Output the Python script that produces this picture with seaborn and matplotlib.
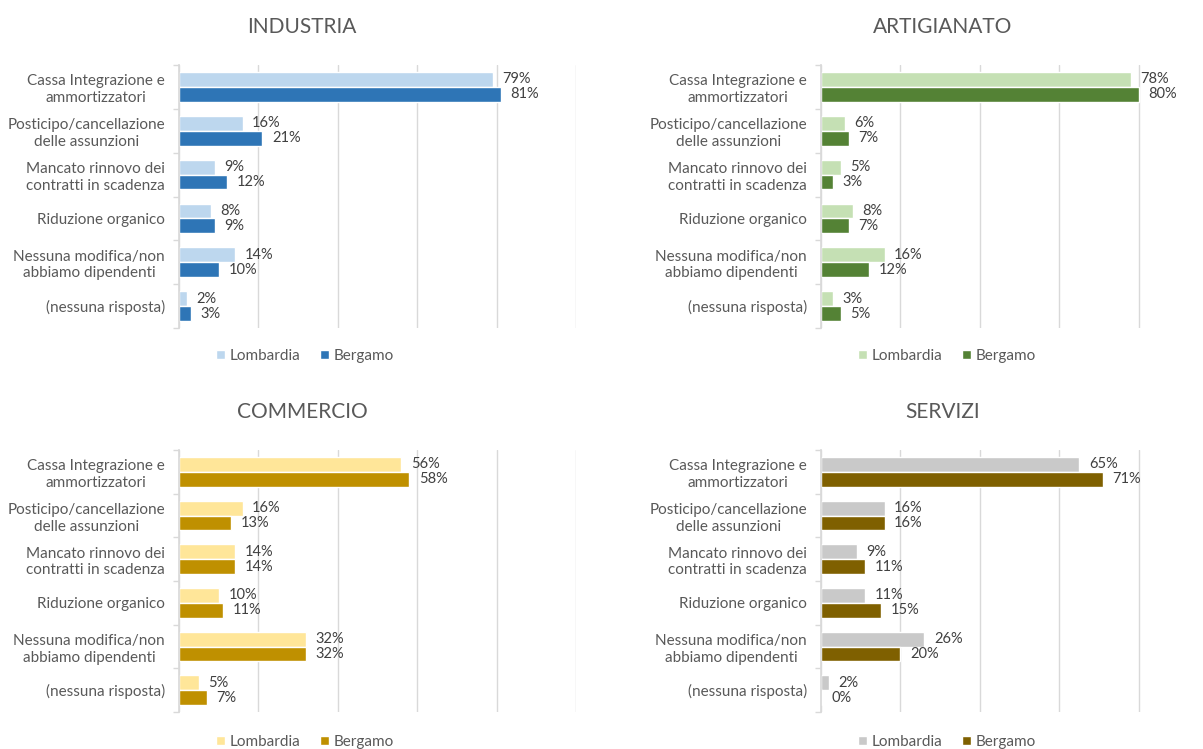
import matplotlib
matplotlib.use('Agg')
import matplotlib.pyplot as plt
import pandas as pd
import seaborn as sns

# categories shown on the y axis (wrapped like the original)
categories = [
    'Cassa Integrazione e\nammortizzatori',
    'Posticipo/cancellazione\ndelle assunzioni',
    'Mancato rinnovo dei\ncontratti in scadenza',
    'Riduzione organico',
    'Nessuna modifica/non\nabbiamo dipendenti',
    '(nessuna risposta)',
]
areas = ['Lombardia', 'Bergamo']

industria_lombardia = [79, 16, 9, 8, 14, 2]
industria_bergamo = [81, 21, 12, 9, 10, 3]
artigianato_lombardia = [78, 6, 5, 8, 16, 3]
artigianato_bergamo = [80, 7, 3, 7, 12, 5]
commercio_lombardia = [56, 16, 14, 10, 32, 5]
commercio_bergamo = [58, 13, 14, 11, 32, 7]
servizi_lombardia = [65, 16, 9, 11, 26, 2]
servizi_bergamo = [71, 16, 11, 15, 20, 0.3]

W, H = 1203, 749
GRID = '#D9D9D9'
TXT = '#595959'

sns.set_theme(style='white')
plt.rcParams['font.family'] = ['Lato', 'DejaVu Sans']

fig = plt.figure(figsize=(W / 100, H / 100), dpi=100)


def draw_panel(x0, y_top, y_bot, title, title_xy, lomb, berg, colors, legend_xy):
    # axes placed in pixel units of the reference picture
    ax = fig.add_axes([x0 / W, 1 - y_bot / H, 397 / W, (y_bot - y_top) / H])
    df = pd.DataFrame({
        'categoria': categories * 2,
        'area': [areas[0]] * len(lomb) + [areas[1]] * len(berg),
        'valore': lomb + berg,
    })
    sns.barplot(data=df, y='categoria', x='valore', hue='area', orient='h',
                palette=dict(zip(areas, colors)), saturation=1, width=0.68,
                ax=ax, errorbar=None)

    for cont in ax.containers:
        ax.bar_label(cont, fmt='%.0f%%', padding=7, fontsize=10.5, color='#404040')

    ax.set_xlim(0, 100)
    ax.set_xticks([0, 20, 40, 60, 80, 100])
    ax.set_xticklabels([])
    ax.set_xlabel('')
    ax.set_ylabel('')
    ax.grid(axis='x', color=GRID, lw=1)
    ax.grid(axis='y', visible=False)
    ax.set_axisbelow(True)

    ax.set_yticks(range(len(categories)))
    ax.set_yticklabels(categories, multialignment='center', fontsize=11, color=TXT,
                       linespacing=1.25)
    ax.set_yticks([i - 0.5 for i in range(len(categories) + 1)], minor=True)
    ax.tick_params(axis='y', which='major', length=0, pad=10)
    ax.tick_params(axis='y', which='minor', left=True, length=4, width=1, color=GRID)
    ax.tick_params(axis='x', length=0)

    for s in ['top', 'right', 'bottom']:
        ax.spines[s].set_visible(False)
    ax.spines['left'].set_color(GRID)

    fig.text(title_xy[0] / W, 1 - title_xy[1] / H, title, ha='center', va='center',
             fontsize=15, color=TXT)

    handles, labels = ax.get_legend_handles_labels()
    ax.legend(handles, labels, loc='center', bbox_to_anchor=(legend_xy[0] / W, 1 - legend_xy[1] / H),
              bbox_transform=fig.transFigure, ncol=2, frameon=False, fontsize=11,
              handlelength=0.6, handleheight=0.6, handletextpad=0.3, columnspacing=1.3,
              labelcolor=TXT)
    return ax


draw_panel(179, 65, 328, 'INDUSTRIA', (302, 27), industria_lombardia, industria_bergamo,
           ['#BDD7EE', '#2E75B6'], (305, 356))
draw_panel(821, 65, 328, 'ARTIGIANATO', (943, 27), artigianato_lombardia, artigianato_bergamo,
           ['#C5E0B4', '#548235'], (947, 356))
draw_panel(179, 450, 712, 'COMMERCIO', (302, 412), commercio_lombardia, commercio_bergamo,
           ['#FFE699', '#BF9000'], (305, 742))
draw_panel(821, 450, 712, 'SERVIZI', (943, 412), servizi_lombardia, servizi_bergamo,
           ['#C9C9C9', '#7F6000'], (947, 742))

fig.savefig('out.png', dpi=100)
